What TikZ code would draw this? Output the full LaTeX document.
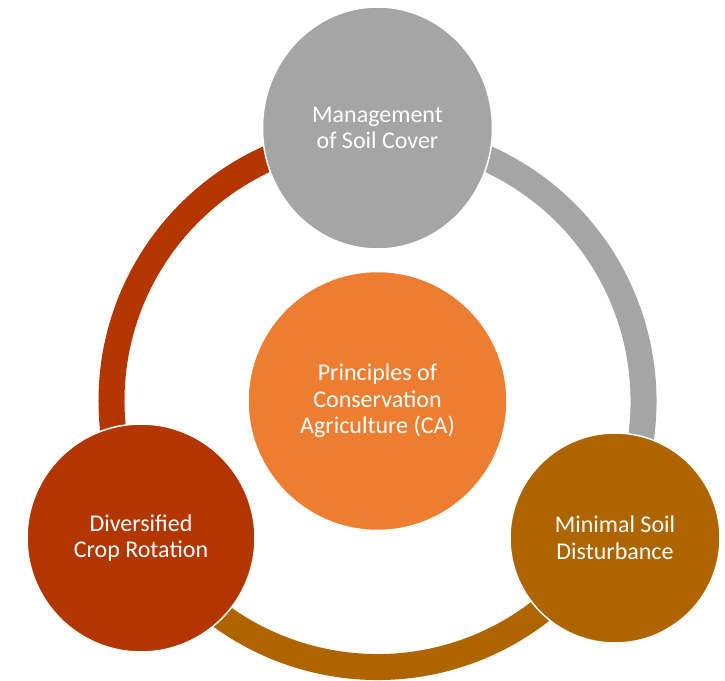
\documentclass[tikz,border=0pt]{standalone}
\usepackage{fontspec}
\setmainfont{Carlito}
\usetikzlibrary{shapes.geometric}
\definecolor{cgray}{HTML}{A5A5A5}
\definecolor{corange}{HTML}{ED7D31}
\definecolor{cred}{HTML}{B33600}
\definecolor{cbrown}{HTML}{AE6500}
\begin{document}
\begin{tikzpicture}[x=1pt,y=1pt,
  bubble/.style={circle, draw=white, line width=1.5pt, text=white, align=center,
    inner sep=0pt, font=\fontsize{24}{26.7}\selectfont},
  ringarc/.style={line width=26pt}]
\useasboundingbox (-377.5,-279) rectangle (347.5,401);
\coordinate (ringT) at (90:266);
\coordinate (ringL) at (210:266);
\coordinate (ringR) at (330:266);
\draw[ringarc, cred] (ringT) arc[start angle=90, end angle=210, radius=266];
\draw[ringarc, cgray] (ringR) arc[start angle=-30, end angle=90, radius=266];
\draw[ringarc, cbrown] (ringL) arc[start angle=210, end angle=330, radius=266];
\node[bubble, ellipse, fill=cgray, minimum width=230pt, minimum height=242pt] (top) at (0,273) {Management\\of Soil Cover};
\node[bubble, fill=corange, minimum size=259pt] (center) at (0,0) {Principles of\\Conservation\\Agriculture (CA)};
\node[bubble, fill=cred, minimum size=228pt] (left) at (-236.5,-137) {Diversified\\Crop Rotation};
\node[bubble, fill=cbrown, minimum size=210pt] (right) at (237.5,-137) {Minimal Soil\\Disturbance};
\end{tikzpicture}
\end{document}
